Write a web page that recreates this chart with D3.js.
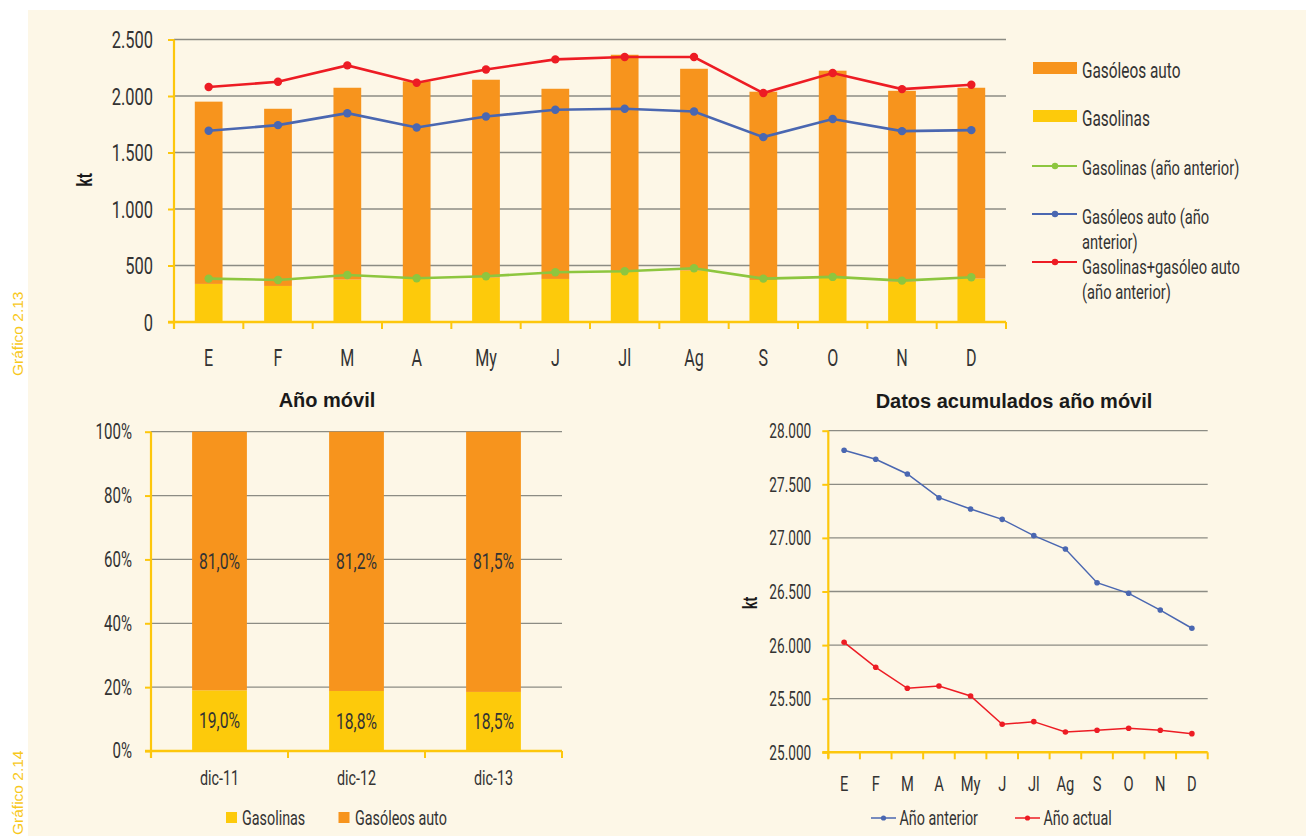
<!DOCTYPE html>
<html><head><meta charset="utf-8">
<script src="https://cdn.jsdelivr.net/npm/d3@7"></script>
<style>
body{margin:0;background:#fff;}
svg{display:block;}
.nar{font-family:Roboto,"Liberation Sans",sans-serif;fill:#333;}
.bold{font-family:"Liberation Sans",Arial,sans-serif;font-weight:bold;fill:#1a1a1a;}
</style></head><body>
<svg id="c" width="1306" height="836"></svg>
<script>
// ---------- DATA ----------
const months = ["E","F","M","A","My","J","Jl","Ag","S","O","N","D"];
const gasolinas = [337,319,375,387,393,381,446,455,372,396,357,384];
const gasoleosAuto = [1613,1568,1698,1743,1751,1683,1919,1786,1666,1828,1689,1689];
const gasolinasPrev = [384,372,416,387,405,440,449,476,384,399,366,396];
const gasoleosPrev = [1692,1742,1848,1721,1819,1878,1887,1863,1636,1796,1689,1698];
const totalPrev = [2079,2126,2271,2117,2235,2324,2345,2345,2026,2203,2061,2099];
const topTicks = [0,500,1000,1500,2000,2500];

const years = ["dic-11","dic-12","dic-13"];
const shareGasolinas = [19.0,18.8,18.5];
const shareGasoleos = [81.0,81.2,81.5];
const pctTicks = [0,20,40,60,80,100];

const acumAnterior = [27817,27733,27596,27375,27270,27173,27021,26896,26582,26483,26327,26157];
const acumActual = [26026,25793,25597,25618,25525,25261,25286,25189,25205,25224,25205,25174];
const acumTicks = [25000,25500,26000,26500,27000,27500,28000];

// ---------- STYLE ----------
const C = {bg:"#FDF7E7", orange:"#F7941D", yellow:"#FDCA0B", axis:"#FDC70C", grid:"#8C8C84",
  red:"#ED1C24", blue:"#4A67B1", green:"#8DC63F", label:"#F8C81C"};
const SX = 0.7;
const loc = d3.formatLocale({decimal:",", thousands:".", grouping:[3], currency:["",""]});
const fmtK = loc.format(",d");
const fmtP = loc.format(".1f");

const svg = d3.select("#c");
svg.append("rect").attr("x",28).attr("y",10).attr("width",1306-28).attr("height",836-10).attr("fill",C.bg);

function T(g, x, y, str, fs, anchor){
  return g.append("text").attr("class","nar")
    .attr("transform",`translate(${x},${y}) scale(${SX},1)`)
    .attr("text-anchor",anchor||"start").attr("dominant-baseline","central")
    .attr("font-size",fs).text(str);
}

// side labels
[["Gráfico 2.13",376],["Gráfico 2.14",835]].forEach(([t,y])=>{
  svg.append("text").attr("transform",`translate(23,${y}) rotate(-90)`)
    .attr("font-family","Liberation Sans, Arial, sans-serif").attr("font-size",15.5)
    .attr("fill",C.label).text(t);
});

function grid(g, y, ticks, x0, x1){
  g.append("g").selectAll("line").data(ticks.slice(1)).join("line")
    .attr("x1",x0).attr("x2",x1).attr("y1",d=>y(d)).attr("y2",d=>y(d))
    .attr("stroke",C.grid).attr("stroke-width",1.3);
}
function yAxisFront(g, y, ticks, x0, fmt, pad, fs, bottomExt){
  const ax = d3.axisLeft(y).tickValues(ticks).tickFormat(fmt).tickSize(6).tickSizeOuter(0).tickPadding(pad);
  const a = g.append("g").attr("transform",`translate(${x0},0)`).call(ax);
  a.select(".domain").remove();
  a.selectAll(".tick line").attr("stroke",C.axis).attr("stroke-width",2);
  a.selectAll(".tick text").attr("class","nar").attr("font-size",fs).attr("fill","#333")
    .attr("x",0).attr("dy",null).attr("dominant-baseline","central")
    .attr("transform",`translate(${-6-pad},0) scale(${SX},1)`);
  a.attr("font-family",null);
  const r = y.range();
  g.append("line").attr("x1",x0).attr("x2",x0).attr("y1",r[1]).attr("y2",r[0]+bottomExt)
    .attr("stroke",C.axis).attr("stroke-width",2.2);
}
function xAxisFront(g, x, y0, n, labY, fs){
  const r = x.range();
  g.append("line").attr("x1",r[0]-6).attr("x2",r[1]).attr("y1",y0).attr("y2",y0).attr("stroke",C.axis).attr("stroke-width",2.6);
  g.append("g").selectAll("line").data(d3.range(n+1)).join("line")
    .attr("x1",i=>r[0]+i*x.step()).attr("x2",i=>r[0]+i*x.step())
    .attr("y1",y0).attr("y2",y0+7).attr("stroke",C.axis).attr("stroke-width",2);
  const lg = g.append("g");
  x.domain().forEach(d=>T(lg, x(d)+x.bandwidth()/2, labY, d, fs, "middle"));
}

// ================= TOP CHART =================
{
  const g = svg.append("g");
  const x = d3.scaleBand().domain(months).range([174,1006]).paddingInner(0.6).paddingOuter(0.3);
  const xc = d=>x(d)+x.bandwidth()/2;
  const y = d3.scaleLinear().domain([0,2500]).range([322,39.5]);
  grid(g,y,topTicks,174,1006);
  g.append("g").selectAll("rect").data(months).join("rect")
    .attr("x",d=>x(d)).attr("width",x.bandwidth())
    .attr("y",(d,i)=>y(gasolinas[i])).attr("height",(d,i)=>y(0)-y(gasolinas[i])).attr("fill",C.yellow);
  g.append("g").selectAll("rect").data(months).join("rect")
    .attr("x",d=>x(d)).attr("width",x.bandwidth())
    .attr("y",(d,i)=>y(gasolinas[i]+gasoleosAuto[i])).attr("height",(d,i)=>y(gasolinas[i])-y(gasolinas[i]+gasoleosAuto[i])).attr("fill",C.orange);
  [[gasolinasPrev,C.green],[gasoleosPrev,C.blue],[totalPrev,C.red]].forEach(([arr,col])=>{
    const line = d3.line().x((d,i)=>xc(months[i])).y(d=>y(d));
    g.append("path").attr("d",line(arr)).attr("fill","none").attr("stroke",col).attr("stroke-width",2.6);
    g.append("g").selectAll("circle").data(arr).join("circle")
      .attr("cx",(d,i)=>xc(months[i])).attr("cy",d=>y(d)).attr("r",4.2).attr("fill",col);
  });
  yAxisFront(g,y,topTicks,174,fmtK,15,23.5,7);
  xAxisFront(g,x,322,12,358,23);
  g.append("text").attr("class","bold").attr("font-size",22)
    .attr("transform",`translate(92,180) rotate(-90) scale(${SX},1)`).attr("text-anchor","middle").text("kt");
  const L = g.append("g");
  const lx0 = 1033, lx1 = 1077, tx = 1082;
  L.append("rect").attr("x",lx0).attr("y",62).attr("width",lx1-lx0).attr("height",12).attr("fill",C.orange);
  T(L,tx,70,"Gasóleos auto",22);
  L.append("rect").attr("x",lx0).attr("y",110).attr("width",lx1-lx0).attr("height",12).attr("fill",C.yellow);
  T(L,tx,118,"Gasolinas",22);
  [[C.green,166,["Gasolinas (año anterior)"],167],[C.blue,214,["Gasóleos auto (año","anterior)"],216],[C.red,262,["Gasolinas+gasóleo auto","(año anterior)"],266]].forEach(([col,ly,lines,ty])=>{
    L.append("line").attr("x1",lx0-1).attr("x2",lx1).attr("y1",ly).attr("y2",ly).attr("stroke",col).attr("stroke-width",2.2);
    L.append("circle").attr("cx",(lx0+lx1)/2).attr("cy",ly).attr("r",3.2).attr("fill",col);
    lines.forEach((t,k)=>T(L,tx,ty+k*25.5,t,21));
  });
}

// ================= BOTTOM LEFT =================
{
  const g = svg.append("g");
  const x = d3.scaleBand().domain(years).range([151,562]).paddingInner(0.6).paddingOuter(0.3);
  const y = d3.scaleLinear().domain([0,100]).range([751,431.7]);
  g.append("text").attr("class","bold").attr("font-size",20).attr("x",327).attr("y",400)
    .attr("text-anchor","middle").attr("dominant-baseline","central").text("Año móvil");
  grid(g,y,pctTicks,151,562);
  g.append("g").selectAll("rect").data(years).join("rect")
    .attr("x",d=>x(d)).attr("width",x.bandwidth())
    .attr("y",(d,i)=>y(shareGasolinas[i])).attr("height",(d,i)=>y(0)-y(shareGasolinas[i])).attr("fill",C.yellow);
  g.append("g").selectAll("rect").data(years).join("rect")
    .attr("x",d=>x(d)).attr("width",x.bandwidth())
    .attr("y",(d,i)=>y(shareGasolinas[i]+shareGasoleos[i])).attr("height",(d,i)=>y(shareGasolinas[i])-y(shareGasolinas[i]+shareGasoleos[i])).attr("fill",C.orange);
  const lb = g.append("g");
  years.forEach((d,i)=>{
    const cx = x(d)+x.bandwidth()/2;
    T(lb,cx,y(shareGasolinas[i]/2),fmtP(shareGasolinas[i])+"%",22.5,"middle");
    T(lb,cx,y(shareGasolinas[i]+shareGasoleos[i]/2),fmtP(shareGasoleos[i])+"%",22.5,"middle");
  });
  yAxisFront(g,y,pctTicks,151,d=>d+"%",13,21.5,7);
  xAxisFront(g,x,751,3,778,20.5);
  const L = g.append("g");
  L.append("rect").attr("x",226).attr("y",812).attr("width",11).attr("height",11).attr("fill",C.yellow);
  T(L,242,818,"Gasolinas",20.5);
  L.append("rect").attr("x",338.5).attr("y",812).attr("width",11).attr("height",11).attr("fill",C.orange);
  T(L,355,818,"Gasóleos auto",20.5);
}

// ================= BOTTOM RIGHT =================
{
  const g = svg.append("g");
  const x = d3.scaleBand().domain(months).range([828.3,1207.7]);
  const xc = d=>x(d)+x.bandwidth()/2;
  const y = d3.scaleLinear().domain([25000,28000]).range([752.3,430.7]);
  g.append("text").attr("class","bold").attr("font-size",20).attr("x",1014).attr("y",400.5)
    .attr("text-anchor","middle").attr("dominant-baseline","central").text("Datos acumulados año móvil");
  grid(g,y,acumTicks,828.3,1207.7);
  [[acumAnterior,C.blue],[acumActual,C.red]].forEach(([arr,col])=>{
    const line = d3.line().x((d,i)=>xc(months[i])).y(d=>y(d));
    g.append("path").attr("d",line(arr)).attr("fill","none").attr("stroke",col).attr("stroke-width",1.5);
    g.append("g").selectAll("circle").data(arr).join("circle")
      .attr("cx",(d,i)=>xc(months[i])).attr("cy",d=>y(d)).attr("r",2.8).attr("fill",col);
  });
  yAxisFront(g,y,acumTicks,828.3,fmtK,11,19.5,6);
  xAxisFront(g,x,752.3,12,783,21);
  g.append("text").attr("class","bold").attr("font-size",20)
    .attr("transform",`translate(757,603) rotate(-90) scale(${SX},1)`).attr("text-anchor","middle").text("kt");
  const L = g.append("g");
  [[C.blue,871,"Año anterior"],[C.red,1015,"Año actual"]].forEach(([col,lx,t])=>{
    L.append("line").attr("x1",lx).attr("x2",lx+25).attr("y1",818).attr("y2",818).attr("stroke",col).attr("stroke-width",1.5);
    L.append("circle").attr("cx",lx+12.5).attr("cy",818).attr("r",2.6).attr("fill",col);
    T(L,lx+28.5,818,t,20.5);
  });
}
</script>
</body></html>
